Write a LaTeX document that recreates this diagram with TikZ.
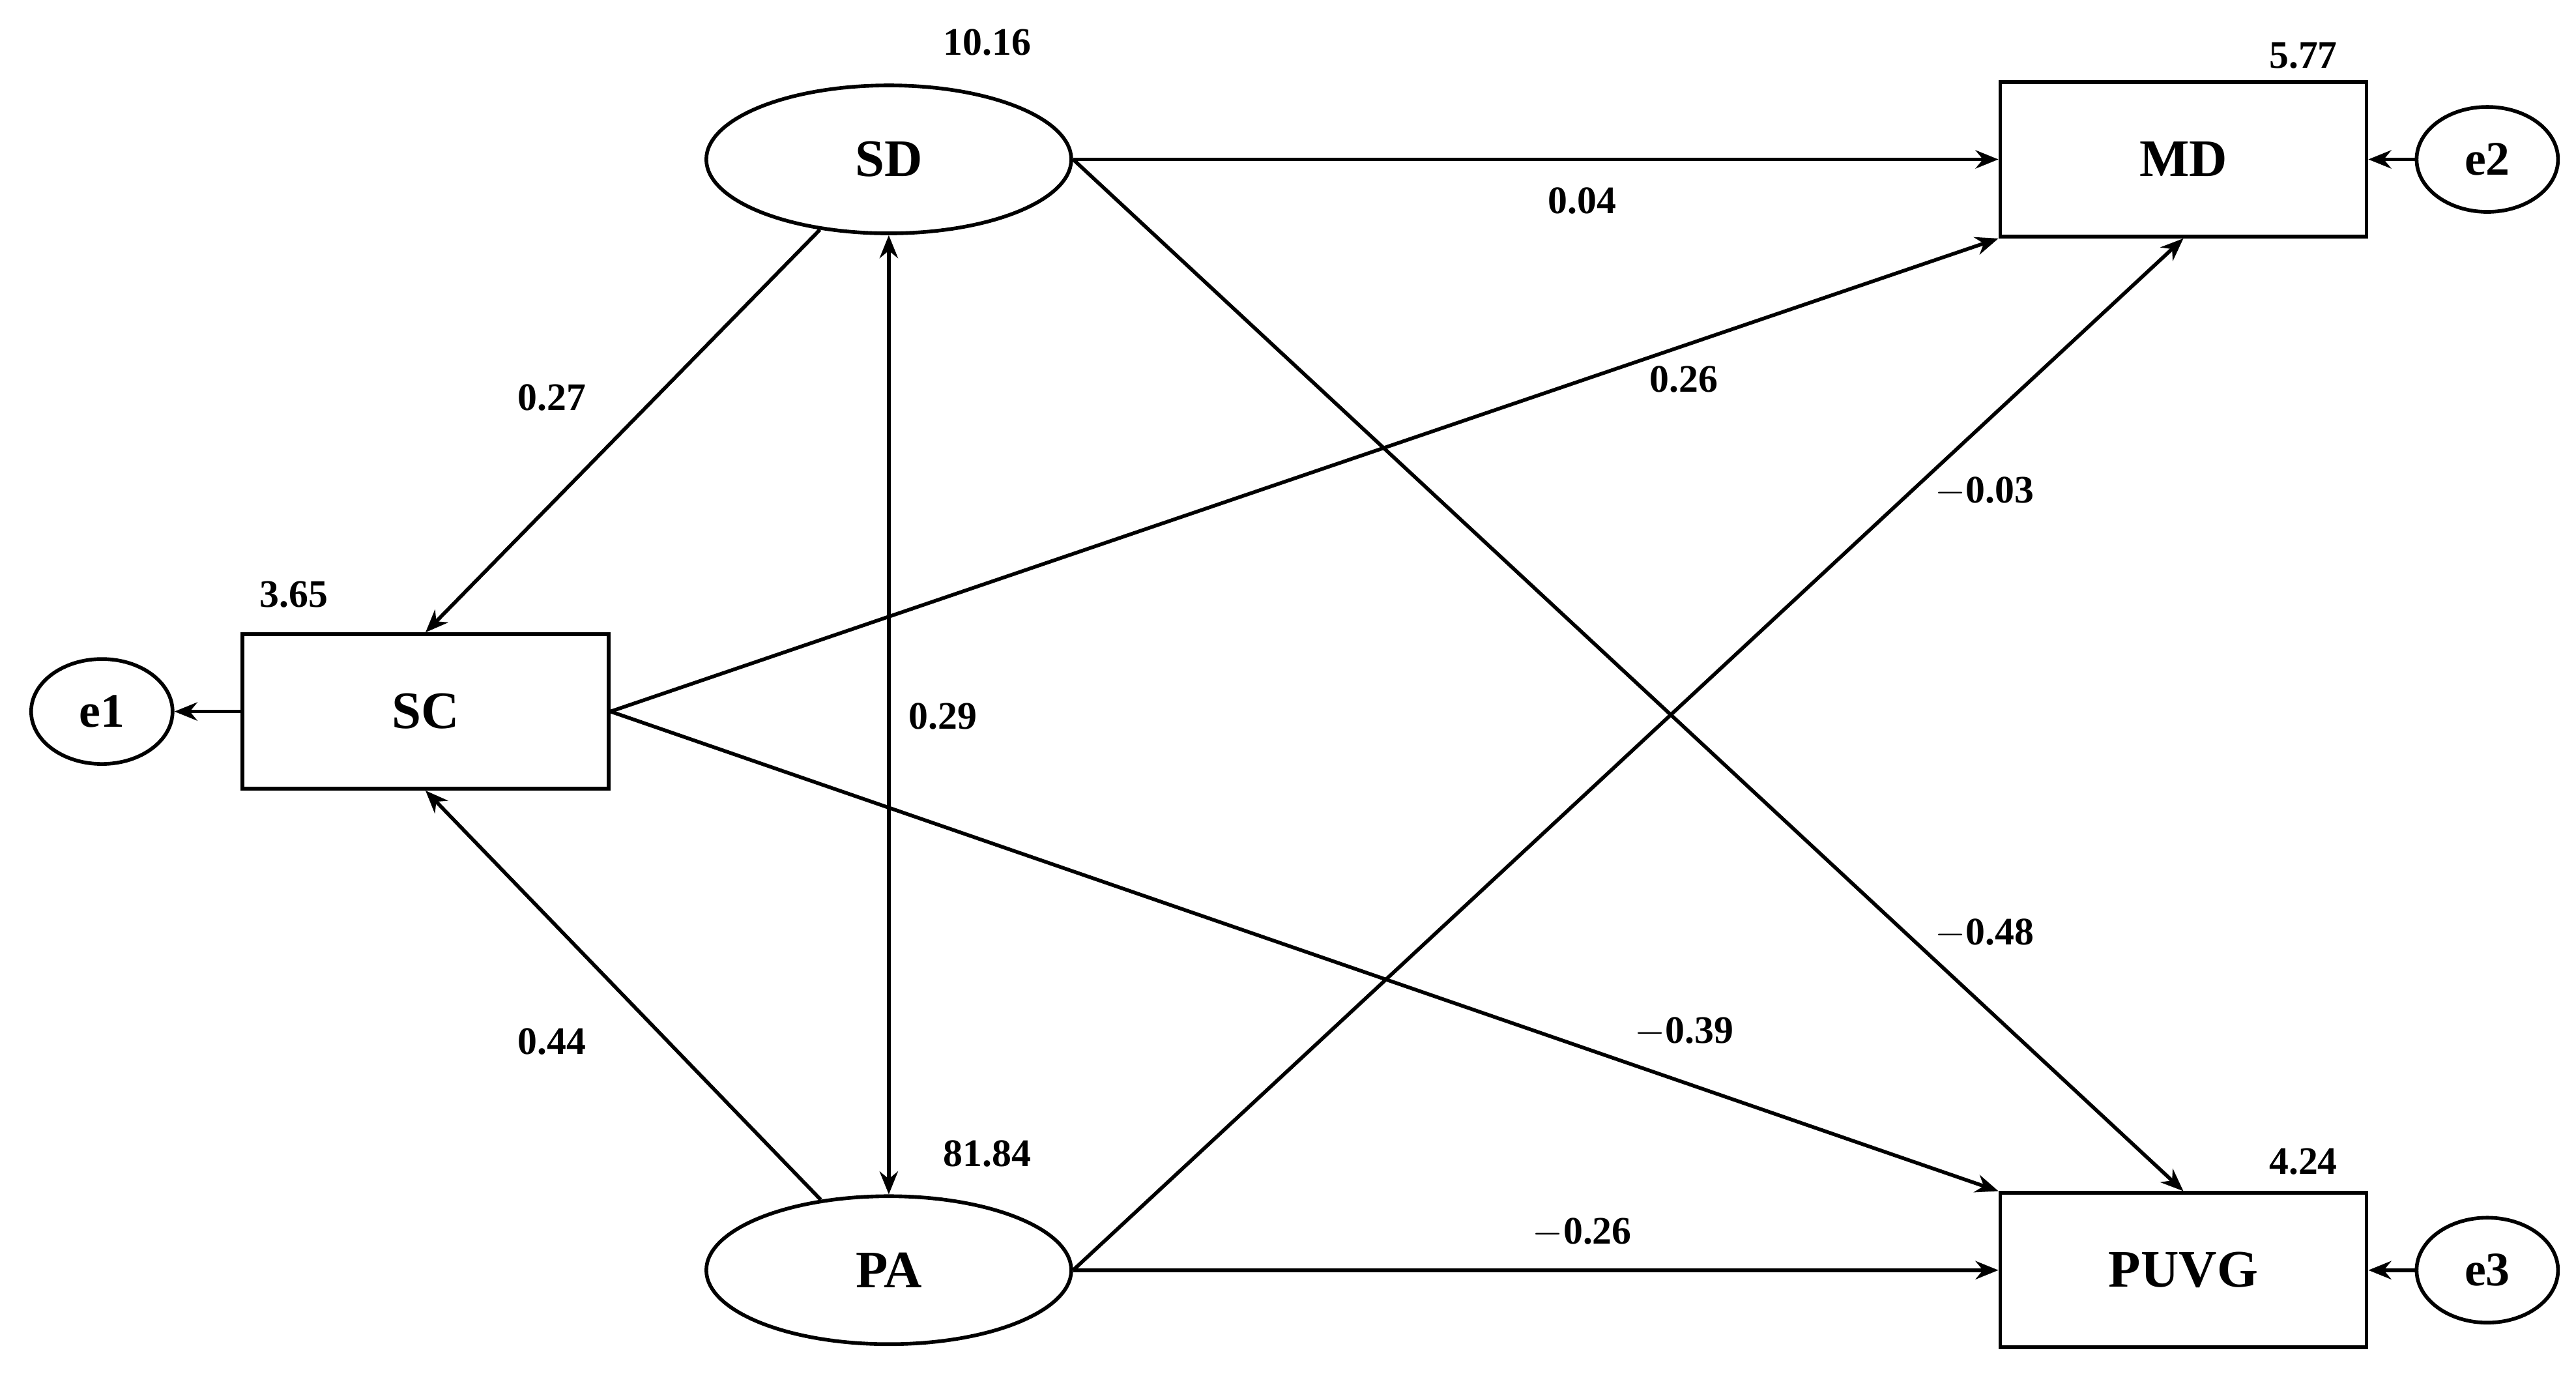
\documentclass[tikz,border=0pt]{standalone}
\usepackage{fontspec}
\setmainfont{Liberation Serif}
\usetikzlibrary{shapes.geometric,arrows.meta}
\begin{document}
\begin{tikzpicture}[x=0.02521cm,y=-0.02521cm,
  lat/.style={ellipse,draw,line width=1.6pt,minimum width=5.6cm,minimum height=2.27cm,inner sep=0pt,font=\fontsize{23}{26}\selectfont\bfseries},
  obs/.style={rectangle,draw,line width=1.6pt,minimum width=5.62cm,minimum height=2.37cm,inner sep=0pt,font=\fontsize{23}{26}\selectfont\bfseries},
  err/.style={ellipse,draw,line width=1.6pt,minimum width=2.17cm,minimum height=1.61cm,inner sep=0pt,font=\fontsize{21}{24}\selectfont\bfseries},
  num/.style={font=\fontsize{17}{20}\selectfont\bfseries,inner sep=1pt},
  arr/.style={line width=1.6pt,-{Stealth[length=10pt,width=8pt]}}]
\useasboundingbox (0,0) rectangle (1568,844);
\node[lat] (SD) at (541,97) {SD};
\node[lat] (PA) at (541,773) {PA};
\node[obs] (SC) at (259,433) {SC};
\node[obs] (MD) at (1329,97) {MD};
\node[obs] (PUVG) at (1329,773) {PUVG};
\node[err] (e1) at (62,433) {e1};
\node[err] (e2) at (1514,97) {e2};
\node[err] (e3) at (1514,773) {e3};
\node[num] (l1) at (601,26) {10.16};
\node[num] (l2) at (1402,34) {5.77};
\node[num] (l3) at (179,362) {3.65};
\node[num] (l4) at (601,702) {81.84};
\node[num] (l5) at (1402,707) {4.24};
\draw[arr] (SD) -- (SC.north);
\draw[arr] (SD.east) -- (MD.west);
\draw[arr] (SD.east) -- (PUVG.north);
\draw[arr] (SC.east) -- (MD.south west);
\draw[arr] (SC.east) -- (PUVG.north west);
\draw[arr] (PA) -- (SC.south);
\draw[arr] (PA.east) -- (MD.south);
\draw[arr] (PA.east) -- (PUVG.west);
\draw[arr,{Stealth[length=10pt,width=8pt]}-{Stealth[length=10pt,width=8pt]}] (SD.south) -- (PA.north);
\draw[arr] (SC.west) -- (e1.east);
\draw[arr] (e2.west) -- (MD.east);
\draw[arr] (e3.west) -- (PUVG.east);
\node[num] (w1) at (963,122) {0.04};
\node[num] (w2) at (336,242) {0.27};
\node[num] (w3) at (1025,231) {0.26};
\node[num] (w4) at (1208,299) {$-$0.03};
\node[num] (w5) at (574,436) {0.29};
\node[num] (w6) at (1208,568) {$-$0.48};
\node[num] (w7) at (1025,628) {$-$0.39};
\node[num] (w8) at (336,634) {0.44};
\node[num] (w9) at (963,750) {$-$0.26};
\end{tikzpicture}
\end{document}
